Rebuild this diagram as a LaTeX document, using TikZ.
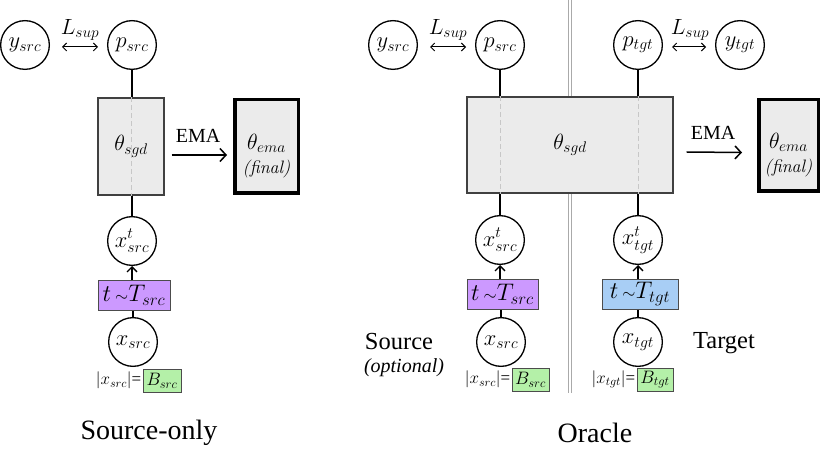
\documentclass[tikz,border=0pt]{standalone}
\usepackage{fix-cm}
\usepackage{fontspec}
\setmainfont{Liberation Serif}
\newfontfamily\lmr{Latin Modern Roman}
\usetikzlibrary{arrows.meta}
\definecolor{boxgray}{HTML}{EBEBEB}
\definecolor{purp}{HTML}{CC99FF}
\definecolor{bluebox}{HTML}{A8CEF5}
\definecolor{greenbox}{HTML}{B4F0A8}
\definecolor{sepgray}{HTML}{AAAAAA}
\tikzset{
  var/.style={circle, draw, line width=1.3pt, minimum size=48.7pt, inner sep=0pt, font=\fontsize{22.5}{22.5}\selectfont},
  sgdbox/.style={rectangle, draw=black!75, line width=1.3pt, fill=boxgray, inner sep=0pt},
  emabox/.style={rectangle, draw=black, line width=3.5pt, fill=boxgray, inner sep=0pt},
  tbox/.style={rectangle, draw=black!70, line width=1pt, inner sep=0pt, minimum height=30pt, font=\fontsize{24}{24}\selectfont},
  bbox/.style={rectangle, draw=black!70, line width=1pt, fill=greenbox, inner sep=0pt, minimum height=23pt, font=\fontsize{18}{18}\selectfont},
  blabel/.style={inner sep=1pt, font=\fontsize{17}{17}\selectfont},
  conn/.style={line width=1.3pt, black},
  hid/.style={line width=1pt, black!22, dash pattern=on 5pt off 3pt},
  emaarrow/.style={line width=1.5pt, -{Straight Barb[length=6pt,width=13pt]}},
  suparrow/.style={line width=1pt, {Straight Barb[length=4pt,width=8pt]}-{Straight Barb[length=4pt,width=8pt]}},
  uparrow/.style={line width=1.3pt, -{Straight Barb[length=5pt,width=10pt]}},
  emalabel/.style={font=\rmfamily\fontsize{20}{20}\selectfont, inner sep=0pt},
  suplabel/.style={font=\fontsize{22}{22}\selectfont, inner sep=0pt},
  thlabel/.style={font=\fontsize{22}{22}\selectfont, inner sep=0pt},
  title/.style={font=\rmfamily\fontsize{28}{28}\selectfont, inner sep=0pt},
  side/.style={font=\rmfamily\fontsize{24.5}{24.5}\selectfont, inner sep=0pt},
  emat/.style={align=center, inner sep=0pt, font=\fontsize{22}{26}\selectfont}
}
\begin{document}
\begin{tikzpicture}[x=1pt,y=-1pt]
\useasboundingbox (0,0) rectangle (830,449);
% ===== Source-only =====
\node[var] (ys1) at (25,45) {$y_{src}$};
\node[var] (ps1) at (132,45) {$p_{src}$};
\node[var] (xt1) at (132,241) {$x^t_{src}$};
\node[var] (x1) at (133,342) {$x_{src}$};
\draw[conn] (ps1) -- (xt1);
\node[sgdbox, minimum width=66pt, minimum height=97pt] (sgd1) at (131,146.5) {};
\draw[hid] (sgd1.north) -- (sgd1.south);
\node[thlabel] (sgdl1) at (sgd1.center) {$\theta_{sgd}$};
\node[emabox, minimum width=63.5pt, minimum height=93.5pt] (ema1) at (266.5,146.5) {};
\node[emat] (emal1) at (266.5,156) {$\theta_{ema}$\\[-2pt]{\lmr\fontsize{18}{18}\selectfont\itshape (final)}};
\draw[emaarrow] ([xshift=7pt,yshift=-8.5pt]sgd1.east) -- ([xshift=-6pt,yshift=-8.5pt]ema1.west);
\node[emalabel, anchor=base] (emat1) at (198,143) {EMA};
\draw[suparrow] ([xshift=12pt,yshift=-2pt]ys1.east) -- ([xshift=-9pt,yshift=-2pt]ps1.west);
\node[suplabel] (sup1) at (80,30) {$L_{sup}$};
\node[tbox, fill=purp, minimum width=72pt] (t1) at (134,295.5) {$t\,{\scriptstyle\sim}T_{src}$};
\draw[uparrow] (t1.north -| xt1) -- (xt1.south);
\draw[conn] (x1.north) -- (t1.south -| x1);
\node[bbox, minimum width=38pt] (b1) at (162,380.5) {$B_{src}$};
\node[blabel, anchor=east] (l1) at (b1.west) {$|x_{src}|$=};
\node[title] (title1) at (149,433) {Source-only};
% ===== Oracle =====
\draw[sepgray, line width=0.8pt] (568.5,0) -- (568.5,393);
\draw[sepgray, line width=0.8pt] (571.5,0) -- (571.5,393);
\node[var] (ys2) at (393,45) {$y_{src}$};
\node[var] (ps2) at (500,45) {$p_{src}$};
\node[var] (pt2) at (638,45) {$p_{tgt}$};
\node[var] (yt2) at (740,45) {$y_{tgt}$};
\node[var] (xt2) at (500,240) {$x^t_{src}$};
\node[var] (x2) at (501,342) {$x_{src}$};
\node[var] (xtt2) at (638,240) {$x^t_{tgt}$};
\node[var] (xg2) at (638,342) {$x_{tgt}$};
\draw[conn] (ps2) -- (xt2);
\draw[conn] (pt2) -- (xtt2);
\node[sgdbox, minimum width=206pt, minimum height=96pt] (sgd2) at (570,145) {};
\draw[hid] (sgd2.north -| ps2) -- (sgd2.south -| ps2);
\draw[hid] (sgd2.north -| pt2) -- (sgd2.south -| pt2);
\node[thlabel] (sgdl2) at (sgd2.center) {$\theta_{sgd}$};
\node[emabox, minimum width=59.5pt, minimum height=91.5pt] (ema2) at (788.5,145.5) {};
\node[emat] (emal2) at (788.5,155) {$\theta_{ema}$\\[-2pt]{\lmr\fontsize{18}{18}\selectfont\itshape (final)}};
\draw[emaarrow] ([xshift=13pt,yshift=-7pt]sgd2.east) -- ([xshift=-15pt,yshift=-7pt]ema2.west);
\node[emalabel, anchor=base] (emat2) at (713,140) {EMA};
\draw[suparrow] ([xshift=12pt,yshift=-2pt]ys2.east) -- ([xshift=-9pt,yshift=-2pt]ps2.west);
\node[suplabel] (sup2) at (448,30) {$L_{sup}$};
\draw[suparrow] ([xshift=9pt,yshift=-2pt]pt2.east) -- ([xshift=-9pt,yshift=-2pt]yt2.west);
\node[suplabel] (sup3) at (690,30) {$L_{sup}$};
\node[tbox, fill=purp, minimum width=71pt] (t2) at (502.5,294) {$t\,{\scriptstyle\sim}T_{src}$};
\node[tbox, fill=bluebox, minimum width=76pt] (t3) at (640,294) {$t\,{\scriptstyle\sim}T_{tgt}$};
\draw[uparrow] (t2.north -| xt2) -- (xt2.south);
\draw[uparrow] (t3.north -| xtt2) -- (xtt2.south);
\draw[conn] (x2.north) -- (t2.south -| x2);
\draw[conn] (xg2.north) -- (t3.south -| xg2);
\node[bbox, minimum width=37pt] (b2) at (530.5,379.5) {$B_{src}$};
\node[blabel, anchor=east] (l2) at (b2.west) {$|x_{src}|$=};
\node[bbox, minimum width=36pt] (b3) at (655,379.5) {$B_{tgt}$};
\node[blabel, anchor=east] (l3) at (b3.west) {$|x_{tgt}|$=};
\node[side] (src) at (399,342) {Source};
\node[font=\rmfamily\itshape\fontsize{20}{20}\selectfont, inner sep=0pt] (opt) at (404,368) {(optional)};
\node[side] (tgt) at (724,343) {Target};
\node[title] (title2) at (595,433) {Oracle};
\end{tikzpicture}
\end{document}
